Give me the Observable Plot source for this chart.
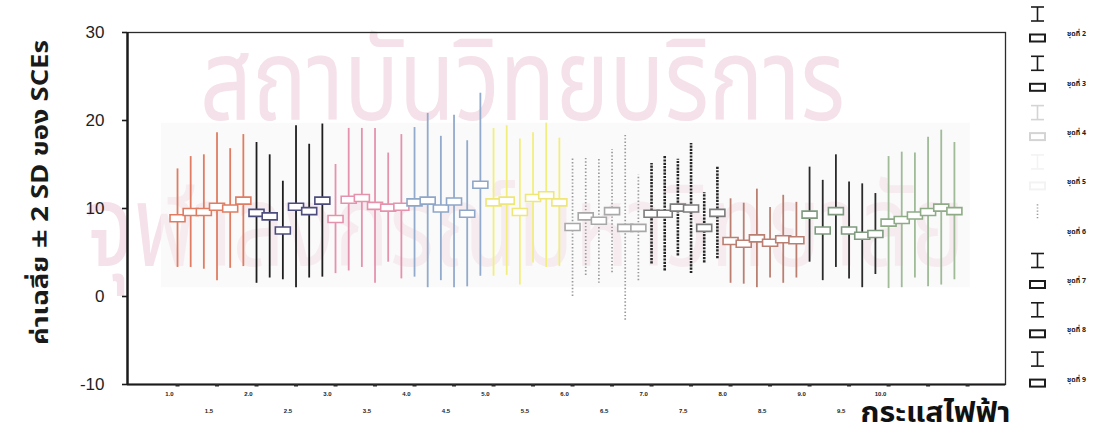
<!DOCTYPE html>
<html>
<head>
<meta charset="utf-8">
<script src="https://cdn.jsdelivr.net/npm/d3@7"></script>
<script src="https://cdn.jsdelivr.net/npm/@observablehq/plot@0.6"></script>
<style>
  html, body { margin: 0; padding: 0; background: #ffffff; }
  #chart svg { display: block; }
</style>
</head>
<body>
<div id="chart"></div>
<script>
// Ten series of six measurements each: mean SCE count and the 2 SD half-width.
const groupNames = ["ชุดที่ 1", "ชุดที่ 2", "ชุดที่ 3", "ชุดที่ 4", "ชุดที่ 5",
                    "ชุดที่ 6", "ชุดที่ 7", "ชุดที่ 8", "ชุดที่ 9", "ชุดที่ 10"];
const barColors = ["#e07c62", "#1e1e1e", "#e592ad", "#92aacb", "#f2ee7e",
                   "#999999", "#262626", "#bb7f72", "#2a2a2a", "#9fbb97"];
const boxColors = ["#e07c62", "#4c4c7e", "#e592ad", "#8ea6c8", "#eee676",
                   "#a8a8a8", "#7c7c7c", "#bb7f72", "#7f9a7f", "#8eab86"];
const dashStyle = ["solid", "solid", "solid", "solid", "solid",
                   "dotted", "chain", "solid", "solid", "solid"];

const means = [
  [8.9, 9.6, 9.6, 10.2, 10.0, 10.9],
  [9.5, 9.1, 7.5, 10.2, 9.7, 10.9],
  [8.8, 11.0, 11.2, 10.3, 10.1, 10.2],
  [10.7, 10.9, 10.0, 10.8, 9.4, 12.7],
  [10.7, 10.9, 9.6, 11.2, 11.5, 10.7],
  [7.9, 9.1, 8.6, 9.7, 7.8, 7.8],
  [9.4, 9.4, 10.1, 10.0, 7.8, 9.5],
  [6.3, 6.0, 6.6, 6.1, 6.5, 6.4],
  [9.3, 7.5, 9.7, 7.5, 6.9, 7.1],
  [8.4, 8.7, 9.2, 9.6, 10.1, 9.7]
];
const twoSD = [
  [5.6, 6.3, 6.5, 8.4, 6.8, 7.5],
  [8.0, 7.0, 5.6, 9.2, 7.6, 8.7],
  [6.2, 8.1, 7.9, 8.8, 6.2, 8.2],
  [8.5, 9.9, 8.2, 9.8, 8.3, 10.4],
  [8.4, 8.5, 8.3, 7.4, 8.2, 7.3],
  [7.9, 6.7, 7.1, 7.0, 10.5, 6.0],
  [5.7, 6.5, 5.5, 7.4, 4.0, 5.2],
  [4.8, 4.6, 5.6, 4.0, 5.0, 4.3],
  [5.4, 5.7, 6.4, 5.5, 5.9, 4.6],
  [7.5, 7.7, 7.1, 8.5, 8.8, 7.8]
];

// Current (x axis) tick labels, printed in two staggered rows.
const currentLabelsUpper = ["1.0", "2.0", "3.0", "4.0", "5.0", "6.0", "7.0", "8.0", "9.0", "10.0"];
const currentLabelsLower = ["1.5", "2.5", "3.5", "4.5", "5.5", "6.5", "7.5", "8.5", "9.5"];
const yTicks = [-10, 0, 10, 20, 30];

// Legend entries shown at the right edge.
const legendLabels = ["ชุดที่ 2", "ชุดที่ 3", "ชุดที่ 4", "ชุดที่ 5", "ชุดที่ 6", "ชุดที่ 7", "ชุดที่ 8", "ชุดที่ 9"];
const legendColors = ["#1c1c1c", "#1c1c1c", "#d4d4d4", "#f3f3f3", "#9a9a9a", "#1c1c1c", "#1c1c1c", "#1c1c1c"];

const yTitle = "ค่าเฉลี่ย ± 2 SD ของ SCEs";
const xTitle = "กระแสไฟฟ้า";

const thaiFont = "'Noto Sans Thai', 'Noto Sans Thai UI', Loma, Garuda, Kinnari, Tahoma, 'DejaVu Sans', sans-serif";
const latinFont = "'Liberation Sans', Arial, " + thaiFont;

// One row per error bar; bars sit in consecutive slots, six slots per unit of current step.
const rows = [];
groupNames.forEach((g, gi) => {
  means[gi].forEach((m, k) => {
    const slot = gi * means[gi].length + k;
    rows.push({group: gi, pos: 1 + slot / 6, mean: m, lo: m - twoSD[gi][k], hi: m + twoSD[gi][k]});
  });
});

const boxSymbol = {
  draw(context) {
    context.rect(-7.5, -3.5, 15, 7);
  }
};

const xDomain = [0.367, 11.48];
const parseLabel = s => +s;

const plot = Plot.plot({
  width: 1098,
  height: 436,
  marginLeft: 127,
  marginRight: 93,
  marginTop: 32,
  marginBottom: 52,
  style: {fontFamily: latinFont, background: "transparent", overflow: "visible"},
  x: {domain: xDomain, axis: null},
  y: {domain: [-10, 30], axis: null},
  color: {type: "identity"},
  marks: [
    // error bars: solid series
    Plot.ruleX(rows.filter(d => dashStyle[d.group] === "solid"), {
      x: "pos", y1: "lo", y2: "hi", stroke: d => barColors[d.group], strokeWidth: 1.8
    }),
    // error bars: light dotted series
    Plot.ruleX(rows.filter(d => dashStyle[d.group] === "dotted"), {
      x: "pos", y1: "lo", y2: "hi", stroke: d => barColors[d.group], strokeWidth: 1.7, strokeDasharray: "1.4,2"
    }),
    // error bars: dark beaded series
    Plot.ruleX(rows.filter(d => dashStyle[d.group] === "chain"), {
      x: "pos", y1: "lo", y2: "hi", stroke: d => barColors[d.group], strokeWidth: 2.6, strokeDasharray: "2.2,1.1"
    }),
    // mean markers
    Plot.dot(rows, {
      x: "pos", y: "mean", symbol: boxSymbol, r: 4,
      stroke: d => boxColors[d.group], fill: "#ffffff", strokeWidth: 1.6
    }),
    // frame and axes
    Plot.frame({stroke: "#2b2b2b", strokeWidth: 1.3}),
    Plot.ruleX([xDomain[0]], {stroke: "#1b1b1b", strokeWidth: 2.4}),
    Plot.ruleY([-10], {stroke: "#1b1b1b", strokeWidth: 1.8}),
    Plot.axisY({ticks: yTicks, tickSize: 5, tickPadding: 18, fontSize: 17, fill: "#1e1e1e",
                tickFormat: d => String(d), stroke: "#1b1b1b", strokeWidth: 1.6, label: null}),
    Plot.axisX({ticks: d3.range(1, 11.01, 0.5), tickSize: 2.5, tickFormat: () => "",
                stroke: "#2a2a2a", strokeWidth: 4, label: null}),
    Plot.axisX({ticks: currentLabelsUpper.map(parseLabel), tickSize: 0, tickPadding: 7, dx: -8,
                tickFormat: d3.format(".1f"), fontSize: 6, fontWeight: "bold", fill: "#222", label: null}),
    Plot.axisX({ticks: currentLabelsLower.map(parseLabel), tickSize: 0, tickPadding: 24, dx: -8,
                tickFormat: d3.format(".1f"), fontSize: 6, fontWeight: "bold", fill: "#222", label: null}),
    // axis titles
    Plot.text([yTitle], {
      frameAnchor: "left", dx: -87, dy: -16, rotate: -90, text: d => d, textAnchor: "middle",
      fontSize: 23, fontWeight: "bold", fill: "#1a1a1a", fontFamily: thaiFont, lineAnchor: "middle"
    }),
    Plot.text([xTitle], {
      frameAnchor: "bottom-right", dx: 5, dy: 28, text: d => d, textAnchor: "end",
      fontSize: 29, fontWeight: "bold", fill: "#111", fontFamily: thaiFont, lineAnchor: "middle"
    })
  ]
});

document.getElementById("chart").appendChild(plot);

const svg = d3.select(plot);
const sx = plot.scale("x"), sy = plot.scale("y");

// Fit the two axis titles to the lengths they span.
svg.selectAll("text").filter(function () { return this.textContent === yTitle; })
  .attr("textLength", 305).attr("lengthAdjust", "spacingAndGlyphs");
svg.selectAll("text").filter(function () { return this.textContent === xTitle; })
  .attr("textLength", 150).attr("lengthAdjust", "spacingAndGlyphs");

// Pale institutional watermark behind the plot, softened where the pasted chart panel sits.
const back = svg.insert("g", ":first-child").attr("pointer-events", "none");
const wm = back.append("g").attr("font-family", thaiFont).attr("fill", "#f5e1e9").attr("text-anchor", "start");
wm.append("text").attr("x", 200).attr("y", 120).attr("font-size", 114)
  .attr("textLength", 645).attr("lengthAdjust", "spacingAndGlyphs").text("สถาบันวิทยบริการ");
wm.append("text").attr("x", 85).attr("y", 266).attr("font-size", 114)
  .attr("textLength", 880).attr("lengthAdjust", "spacingAndGlyphs").text("จุฬาลงกรณ์มหาวิทยาลัย");
const posExtent = d3.extent(rows, d => d.pos);
const px0 = sx.apply(posExtent[0]) - 16, px1 = sx.apply(posExtent[1]) + 16;
back.append("rect").attr("x", px0).attr("width", px1 - px0)
  .attr("y", sy.apply(19.7)).attr("height", sy.apply(1) - sy.apply(19.7))
  .attr("fill", "#f6f5f5").attr("fill-opacity", 0.55);

// Legend column: error-bar glyph, mean box and label for each entry.
const lg = svg.append("g").attr("font-family", thaiFont).attr("text-anchor", "start");
legendLabels.forEach((label, k) => {
  const by = 38 + 49.3 * k;
  const c = legendColors[k];
  const dash = k === 4 ? "1.2,2" : null;
  const item = lg.append("g").attr("stroke", c).attr("fill", "none").attr("stroke-width", 1.6);
  item.append("line").attr("x1", 1037.5).attr("x2", 1037.5).attr("y1", by - 31).attr("y2", by - 17).attr("stroke-dasharray", dash);
  if (k !== 4) {
    item.append("line").attr("x1", 1031).attr("x2", 1044).attr("y1", by - 31).attr("y2", by - 31);
    item.append("line").attr("x1", 1031).attr("x2", 1044).attr("y1", by - 17).attr("y2", by - 17);
    item.append("rect").attr("x", 1030).attr("y", by - 3.5).attr("width", 15).attr("height", 7).attr("stroke-width", 2);
  }
  lg.append("text").attr("x", 1067).attr("y", by - 4).attr("dy", "0.35em")
    .attr("font-size", 7).attr("font-weight", "bold").attr("fill", "#222").text(label);
});
</script>
</body>
</html>
